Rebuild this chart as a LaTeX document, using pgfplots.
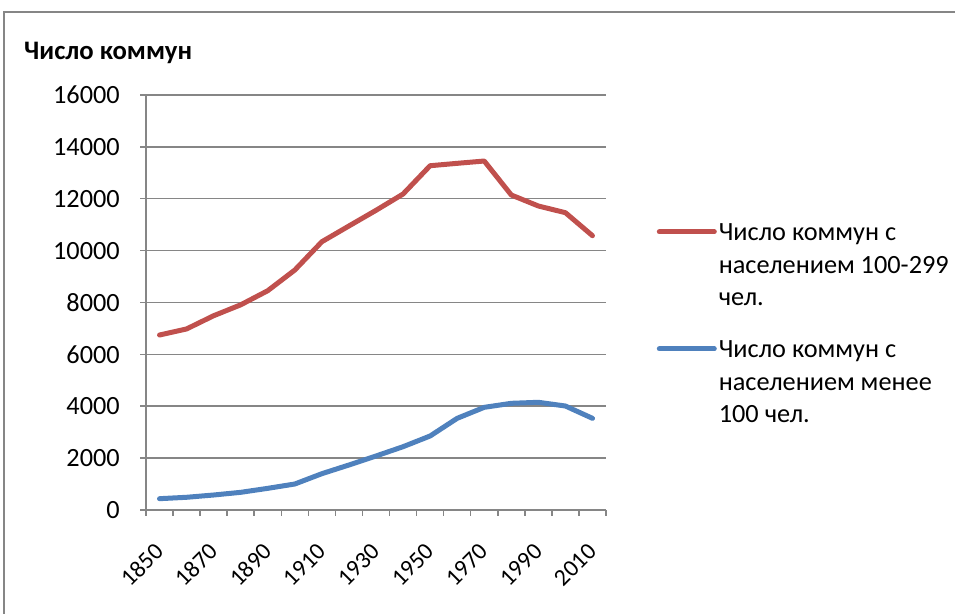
\documentclass[border=0pt]{standalone}
\usepackage{fontspec}
\setmainfont{Carlito}
\usepackage{pgfplots}
\pgfplotsset{compat=1.18}
\definecolor{exred}{HTML}{C0504D}
\definecolor{exblue}{HTML}{4F81BD}
\definecolor{gridgray}{HTML}{868686}
\pgfplotstableread{
idx red blue
0 6746 436
1 6980 490
2 7490 578
3 7910 681
4 8455 835
5 9252 1002
6 10343 1400
7 10950 1735
8 11553 2082
9 12182 2440
10 13273 2853
11 13365 3534
12 13454 3958
13 12144 4113
14 11720 4152
15 11462 4009
16 10575 3534
}\datatable
\begin{document}
\begin{tikzpicture}[x=1bp,y=1bp]
\useasboundingbox (0,0) rectangle (955,614);
\begin{scope}
\clip (0,0) rectangle (955,614);
\draw[gridgray, line width=1.5bp] (4,-10) -- (4,602) -- (970,602);
\end{scope}
\node[anchor=base west, font=\fontsize{26.8}{30}\selectfont\bfseries, inner sep=0pt] at (24,554) {Число коммун};
\begin{axis}[
  at={(146bp,104bp)}, anchor=south west, scale only axis,
  width=460bp, height=415bp,
  xmin=-0.5, xmax=16.5, ymin=0, ymax=16000,
  axis x line*=bottom, axis y line*=left,
  axis line style={gridgray, line width=1.5bp, -},
  tick style={gridgray, line width=1.5bp},
  tick align=outside,
  major tick length=6bp,
  xtick={-0.5,0.5,...,16.5},
  xticklabels={},
  extra x ticks={0,2,...,16},
  extra x tick labels={1850,1870,1890,1910,1930,1950,1970,1990,2010},
  extra x tick style={major tick length=0pt, grid=none},
  ytick={0,2000,...,16000},
  scaled y ticks=false,
  ymajorgrids,
  grid style={gridgray, line width=1.5bp},
  yticklabel style={anchor=east, inner sep=0pt, xshift=-20bp},
  /pgf/number format/.cd, 1000 sep={}, assume math mode=true,
  /pgfplots/.cd,
  ticklabel style={font=\fontsize{26.4}{30}\selectfont},
  xticklabel style={font=\fontsize{24}{30}\selectfont, inner sep=0pt, xshift=0bp, yshift=-37.5bp, rotate=45, anchor=east},
  legend style={at={(1.11,0.695)}, anchor=north west, draw=none, fill=none,
    font=\fontsize{26.4}{32.5}\selectfont, cells={align=left}, row sep=30bp,
    inner sep=0pt},
  legend cell align=left,
  legend image code/.code={\draw[#1, line cap=round] (0bp,33.5bp) -- (55bp,33.5bp);},
]
\addplot[exred, line width=5bp, line join=round, line cap=round] table[x=idx, y=red] {\datatable};
\addlegendentry{Число коммун с\\населением 100-299\\чел.}
\addplot[exblue, line width=5bp, line join=round, line cap=round] table[x=idx, y=blue] {\datatable};
\addlegendentry{Число коммун с\\населением менее\\100 чел.}
\end{axis}
\end{tikzpicture}
\end{document}
